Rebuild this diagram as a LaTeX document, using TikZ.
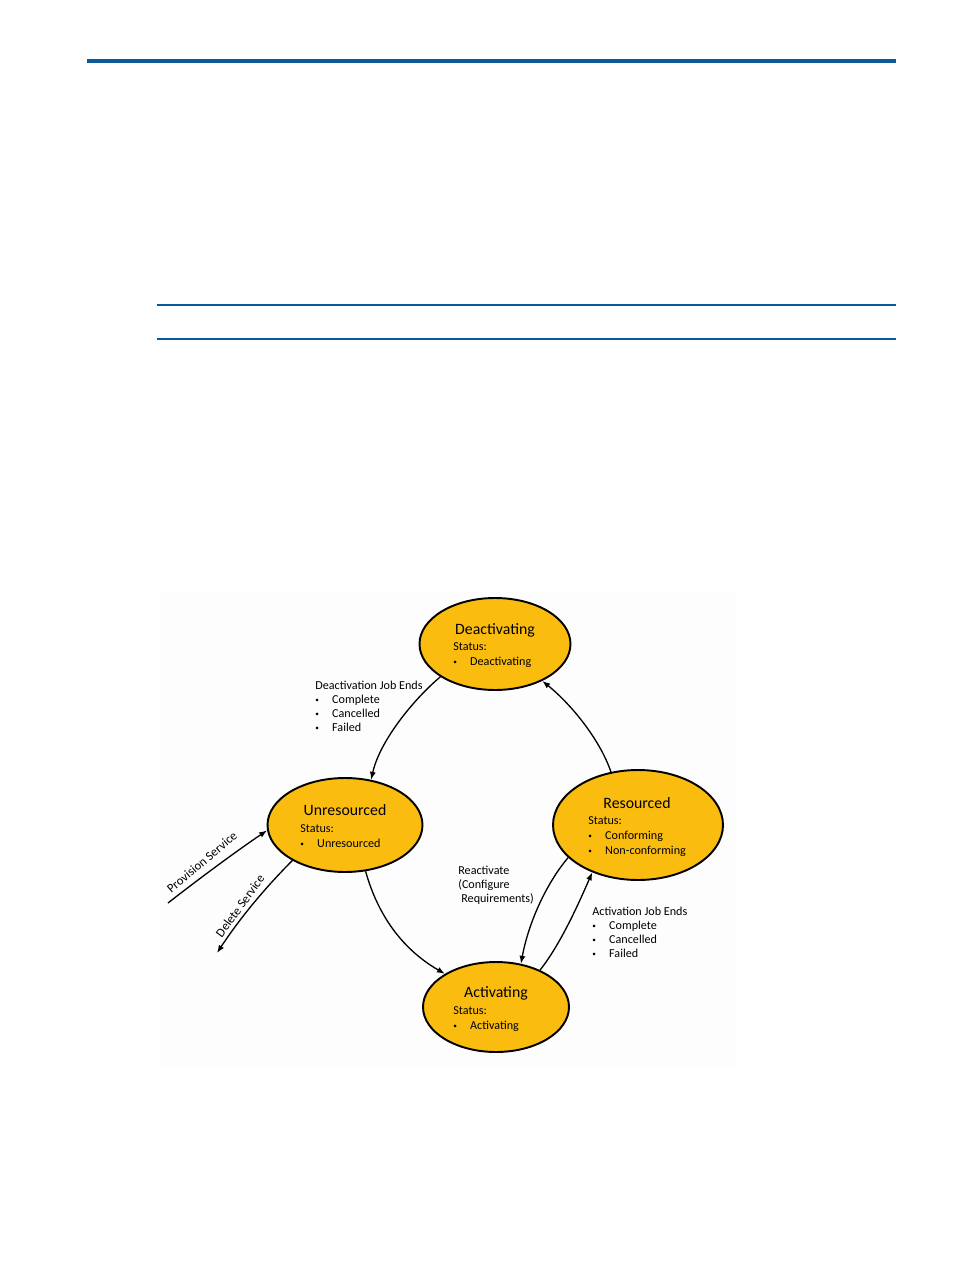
\documentclass[tikz,border=0pt]{standalone}
\usepackage{fontspec}
\setmainfont{Carlito}
\usetikzlibrary{shapes.geometric,arrows.meta}
\definecolor{hpblue}{HTML}{0A5A9A}
\definecolor{stategold}{HTML}{FBBC10}
\definecolor{figbg}{HTML}{FDFDFD}
\newcommand{\bitem}[1]{\makebox[9.6pt][l]{\raisebox{0.6pt}{\scalebox{0.6}{\textbullet}}}#1}

\begin{document}
\begin{tikzpicture}[x=0.02cm,y=-0.02cm,
  state/.style={ellipse,draw=black,line width=1.1pt,fill=stategold,inner sep=0pt},
  title/.style={font=\fontsize{9}{9}\selectfont,anchor=base,inner sep=0pt},
  status/.style={font=\fontsize{6.9}{8.6}\selectfont,align=left,anchor=north west,inner sep=0pt},
  note/.style={font=\fontsize{6.9}{7.9}\selectfont,align=left,anchor=north west,inner sep=0pt},
  trans/.style={line width=0.75pt,-{Latex[length=4.5pt,width=3.4pt]}}]
\useasboundingbox (0,0) rectangle (954,1270);
% page rules
\fill[hpblue] (87,59) rectangle (896,63.5);
\draw[hpblue,line width=0.6pt] (157,305) -- (896,305);
\draw[hpblue,line width=0.6pt] (157,339) -- (896,339);
\fill[figbg] (160,592) rectangle (735,1068);

% states
\node[state,minimum width=3.02cm,minimum height=1.84cm] (deact) at (495,644) {};
\node[state,minimum width=3.1cm,minimum height=1.88cm] (unres) at (345,825) {};
\node[state,minimum width=3.4cm,minimum height=2.2cm] (res) at (638,825) {};
\node[state,minimum width=2.92cm,minimum height=1.8cm] (act) at (496,1007) {};

\node[title] (deacttitle) at (495,634) {Deactivating};
\node[status] (deactstatus) at (453,642) {Status:\\\bitem{Deactivating}};
\node[title] (unrestitle) at (345,815) {Unresourced};
\node[status] (unresstatus) at (300,824) {Status:\\\bitem{Unresourced}};
\node[title] (restitle) at (637,808) {Resourced};
\node[status] (resstatus) at (588,816) {Status:\\\bitem{Conforming}\\\bitem{Non-conforming}};
\node[title] (acttitle) at (496,997) {Activating};
\node[status] (actstatus) at (453,1006) {Status:\\\bitem{Activating}};

% transitions
\draw[trans] (deact.211) .. controls (415,698) and (380,740) .. (unres.60);
\draw[trans] (res.117) .. controls (600,740) and (572,705) .. (deact.322);
\draw[trans] (unres.294) .. controls (375,905) and (395,945) .. (act.147);
\draw[trans] (res.205) .. controls (545,885) and (528,925) .. (act.60);
\draw[trans] (act.40) .. controls (560,945) and (578,905) .. (res.226);

\coordinate (prov) at (168,903);
\coordinate (del) at (217,953);
\draw[trans] (prov) .. controls (200,878) and (238,850) .. (unres.184);
\draw[trans] (unres.214) .. controls (265,888) and (240,918) .. (del);

% labels
\node[note] (deactends) at (315,681) {Deactivation Job Ends\\\bitem{Complete}\\\bitem{Cancelled}\\\bitem{Failed}};
\node[note] (reactivate) at (458,866) {Reactivate\\(Configure\\\hspace{1.7pt}Requirements)};
\node[note] (actends) at (592,907) {Activation Job Ends\\\bitem{Complete}\\\bitem{Cancelled}\\\bitem{Failed}};
\node[font=\fontsize{7.2}{7.2}\selectfont,rotate=40,inner sep=0pt] (provlabel) at (202,862) {Provision Service};
\node[font=\fontsize{7.2}{7.2}\selectfont,rotate=54,inner sep=0pt] (dellabel) at (240,906) {Delete Service};
\end{tikzpicture}
\end{document}
